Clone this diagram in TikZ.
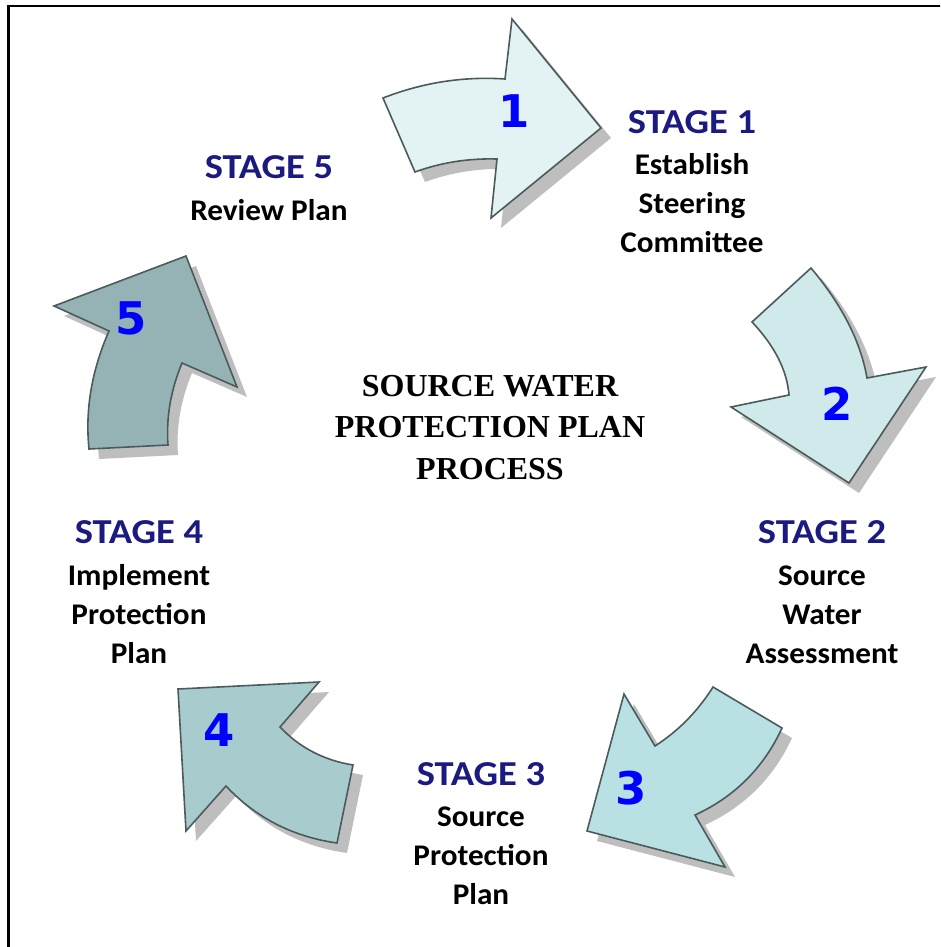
\documentclass[tikz,border=0pt]{standalone}
\usepackage{fontspec}
\setmainfont{Carlito}
\newfontfamily\headfont[FakeStretch=1.1]{Carlito}
\newfontfamily\bodyfont[FakeStretch=1.04]{Carlito}
\newfontfamily\titlefont{Liberation Serif}
\newfontfamily\numfont{DejaVu Sans}

\definecolor{arrowline}{HTML}{4B5B5B}
\definecolor{shadowgray}{HTML}{BEBEBE}
\definecolor{fillA}{HTML}{E3F3F3}
\definecolor{fillB}{HTML}{D0E9EB}
\definecolor{fillC}{HTML}{B9E0E3}
\definecolor{fillD}{HTML}{A8CBCE}
\definecolor{fillE}{HTML}{95B3B5}
\definecolor{stagenavy}{HTML}{1A1A80}
\definecolor{numblue}{HTML}{0000FF}

\tikzset{
  arrowshape/.style={draw=arrowline, line width=1.6pt, line join=miter,
    preaction={fill=shadowgray, transform canvas={xshift=10pt,yshift=-10pt}}},
  stagehead/.style={anchor=base, inner sep=0pt, text=stagenavy,
    font=\headfont\bfseries\fontsize{35}{40}\selectfont},
  stagebody/.style={anchor=base, inner sep=0pt, align=center,
    font=\bodyfont\bfseries\fontsize{30}{39}\selectfont},
  numlabel/.style={inner sep=0pt, text=numblue,
    font=\numfont\bfseries\fontsize{45}{45}\selectfont},
  titletext/.style={anchor=base, inner sep=0pt, align=center,
    font=\titlefont\bfseries\fontsize{32}{41.5}\selectfont}
}

\begin{document}
\begin{tikzpicture}[x=1pt,y=-1pt]
\useasboundingbox (0,0) rectangle (940,947);
\begin{scope}
\clip (0,0) rectangle (940,947);
\draw[line width=2.6pt] (8.3,6) rectangle (960,970);
\end{scope}

% arrow 1
\draw[arrowshape, fill=fillA] (383,98) .. controls (422.8,82.5) and (463.5,76.2) .. (505,79) -- (512,19) -- (601,128) -- (491,218) -- (497,159) .. controls (468.3,158.2) and (441,162.5) .. (415,172) -- cycle;
% arrow 2
\draw[arrowshape, fill=fillB] (752,322) -- (811,268) .. controls (842.1,305.1) and (860.7,341.7) .. (867,378) -- (926,367) -- (849,483) -- (731,407) -- (789,395) .. controls (787,370.3) and (774.7,346) .. (752,322) -- cycle;
% arrow 3
\draw[arrowshape, fill=fillC] (624,694) -- (655,746) .. controls (678.3,731) and (697.7,711.3) .. (713,687) -- (782,728) .. controls (763.7,767.7) and (734.7,796.7) .. (695,815) -- (725,867) -- (587,831) -- cycle;
% arrow 4
\draw[arrowshape, fill=fillD] (178,689) -- (319,682) -- (280,727) .. controls (299.7,747.7) and (324,760.3) .. (353,765) -- (337,843) .. controls (292.7,836.7) and (255.7,817.7) .. (226,786) -- (186,831) -- cycle;
% arrow 5
\draw[arrowshape, fill=fillE] (186,256) -- (237,387) -- (182,363) .. controls (170.7,390.3) and (166,417.7) .. (168,445) -- (89,449) .. controls (85,409.7) and (91.7,370.3) .. (109,331) -- (54,306) -- cycle;

\node[numlabel] (n1) at (514,111) {1};
\node[numlabel] (n2) at (837,404) {2};
\node[numlabel] (n3) at (631,788) {3};
\node[numlabel] (n4) at (219,730) {4};
\node[numlabel] (n5) at (131,318) {5};

\node[titletext] (title) at (490,479) {SOURCE WATER\\PROTECTION PLAN\\PROCESS};

\node[stagehead] (h1) at (692,133) {STAGE 1};
\node[stagebody] (b1) at (692,252) {Establish\\Steering\\Committee};
\node[stagehead] (h2) at (822,543) {STAGE 2};
\node[stagebody] (b2) at (822,663) {Source\\Water\\Assessment};
\node[stagehead] (h3) at (481,785) {STAGE 3};
\node[stagebody] (b3) at (481,904) {Source\\Protection\\Plan};
\node[stagehead] (h4) at (139,543) {STAGE 4};
\node[stagebody] (b4) at (139,663) {Implement\\Protection\\Plan};
\node[stagehead] (h5) at (269,178) {STAGE 5};
\node[stagebody] (b5) at (269,220) {Review Plan};
\end{tikzpicture}
\end{document}
